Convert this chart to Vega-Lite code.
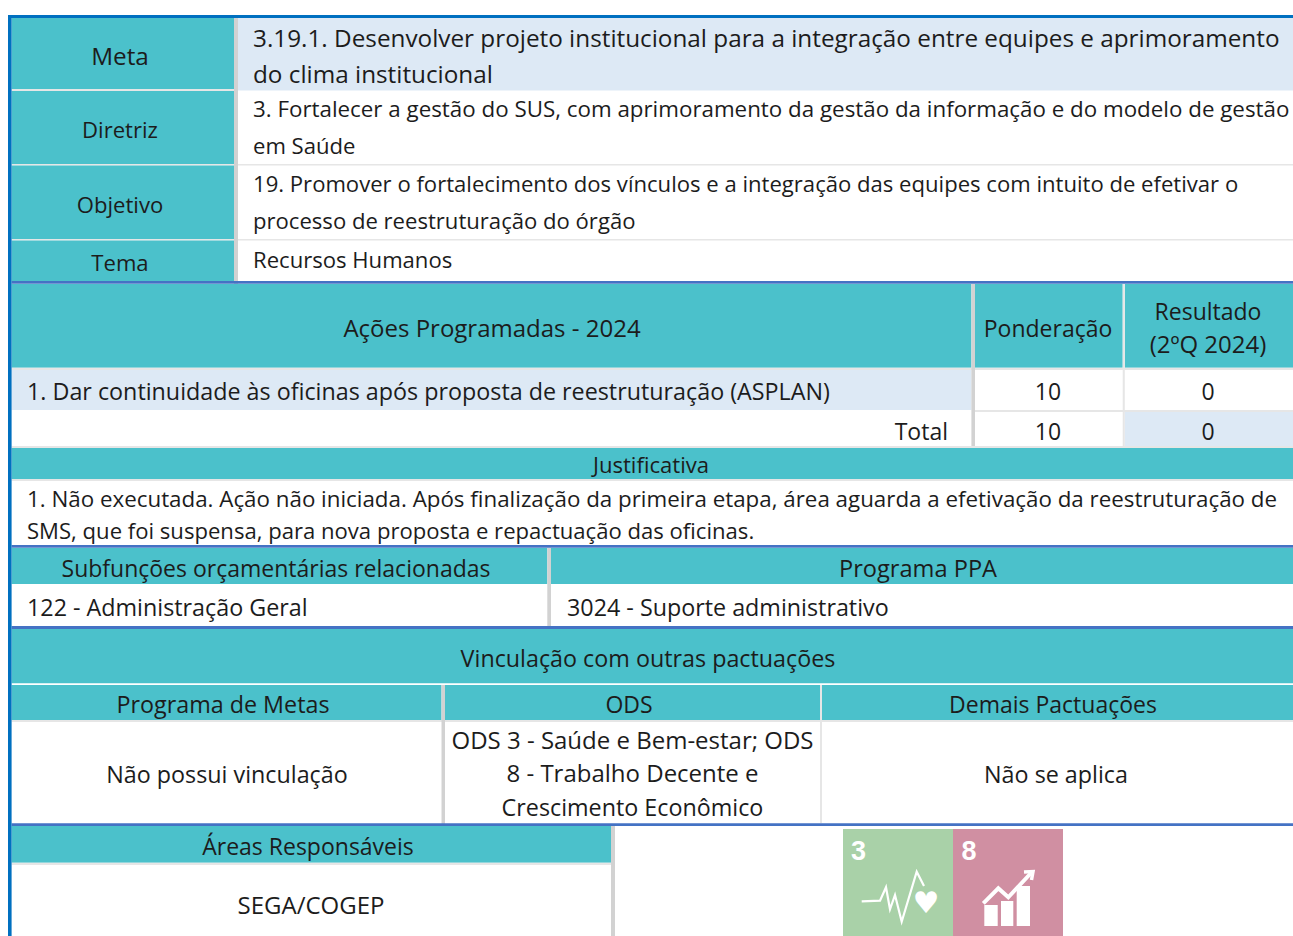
{
"$schema":"https://vega.github.io/schema/vega-lite/v6.json",
"width":1293,"height":936,"padding":0,"autosize":{"type":"none"},"background":"white",
"config":{"view":{"stroke":null},"text":{"font":"Open Sans"}},
"datasets":{
"cells":[
{"kind":"plain","l":11.6,"r":1293,"t":18,"b":936},
{"kind":"teal","l":11.6,"r":234,"t":18,"b":89},
{"kind":"sep","l":11.6,"r":234,"t":89,"b":91},
{"kind":"teal","l":11.6,"r":234,"t":91,"b":164},
{"kind":"sep","l":11.6,"r":234,"t":164,"b":165.5},
{"kind":"teal","l":11.6,"r":234,"t":165.5,"b":239},
{"kind":"sep","l":11.6,"r":234,"t":239,"b":240.5},
{"kind":"teal","l":11.6,"r":234,"t":240.5,"b":281},
{"kind":"pale","l":238,"r":1293,"t":18,"b":90.5},
{"kind":"sep","l":238,"r":1293,"t":164,"b":165.5},
{"kind":"sep","l":238,"r":1293,"t":239,"b":240.5},
{"kind":"grey","l":234,"r":238,"t":18,"b":285},
{"kind":"teal","l":11.6,"r":971.4,"t":284,"b":367.7},
{"kind":"teal","l":975,"r":1122.7,"t":284,"b":367.7},
{"kind":"teal","l":1124.8,"r":1293,"t":284,"b":367.7},
{"kind":"sep","l":11.6,"r":1293,"t":367.7,"b":370},
{"kind":"pale","l":11.6,"r":971.4,"t":370,"b":410},
{"kind":"sep","l":975,"r":1293,"t":410,"b":412},
{"kind":"pale","l":1124.8,"r":1293,"t":412,"b":446},
{"kind":"grey","l":971.4,"r":975,"t":284,"b":446},
{"kind":"sep","l":1122.7,"r":1124.8,"t":284,"b":446},
{"kind":"sep","l":11.6,"r":1293,"t":446,"b":448},
{"kind":"teal","l":11.6,"r":1293,"t":448,"b":479},
{"kind":"sep","l":11.6,"r":1293,"t":479,"b":481},
{"kind":"teal","l":11.6,"r":547.3,"t":548,"b":584},
{"kind":"teal","l":551,"r":1293,"t":548,"b":584},
{"kind":"grey","l":547.3,"r":551,"t":548,"b":629},
{"kind":"teal","l":11.6,"r":1293,"t":629,"b":683.3},
{"kind":"teal","l":11.6,"r":441.5,"t":685,"b":720},
{"kind":"teal","l":445,"r":820,"t":685,"b":720},
{"kind":"teal","l":822,"r":1293,"t":685,"b":720},
{"kind":"sep","l":11.6,"r":1293,"t":720,"b":722},
{"kind":"grey","l":441.5,"r":445,"t":685,"b":826},
{"kind":"sep","l":820,"r":822,"t":685,"b":823.3},
{"kind":"teal","l":11.6,"r":611,"t":826,"b":862.7},
{"kind":"sep","l":11.6,"r":611,"t":862.7,"b":865},
{"kind":"grey","l":611,"r":615,"t":826,"b":936},
{"kind":"rule2","l":11.6,"r":1293,"t":281,"b":283.7},
{"kind":"rule2","l":11.6,"r":1293,"t":545,"b":547.7},
{"kind":"rule2","l":11.6,"r":1293,"t":626,"b":629},
{"kind":"rule2","l":11.6,"r":1293,"t":823.3,"b":826},
{"kind":"rule1","l":8,"r":1293,"t":15,"b":18},
{"kind":"rule1","l":8,"r":11.6,"t":15,"b":936},
{"kind":"ods3","l":843,"r":953,"t":829,"b":936},
{"kind":"ods8","l":953,"r":1063,"t":829,"b":936},
{"kind":"glyph","l":984.3,"r":997.7,"t":905,"b":926},
{"kind":"glyph","l":1001,"r":1013.3,"t":901,"b":926},
{"kind":"glyph","l":1016.7,"r":1030,"t":886,"b":926}
],
"strokes":[
{"path":"pulse","step":1,"h":861.7,"v":901.3},{"path":"pulse","step":2,"h":880,"v":900.7},{"path":"pulse","step":3,"h":886,"v":887.3},{"path":"pulse","step":4,"h":890,"v":909.3},{"path":"pulse","step":5,"h":895,"v":895},{"path":"pulse","step":6,"h":901.7,"v":921.7},{"path":"pulse","step":7,"h":916.7,"v":871.7},{"path":"pulse","step":8,"h":924,"v":886},
{"path":"trend","step":1,"h":983.3,"v":903.3},{"path":"trend","step":2,"h":998.3,"v":888.3},{"path":"trend","step":3,"h":1008.3,"v":897.3},{"path":"trend","step":4,"h":1031,"v":873},
{"path":"head","step":1,"h":1024,"v":872},{"path":"head","step":2,"h":1033,"v":871.5},{"path":"head","step":3,"h":1031.5,"v":880}
],
"labels":[
{"txt":"Meta","pos":120,"base":65,"just":"center","tier":"large"},
{"txt":"Diretriz","pos":120,"base":138.3,"just":"center","tier":"compact"},
{"txt":"Objetivo","pos":120,"base":213.3,"just":"center","tier":"compact"},
{"txt":"Tema","pos":120,"base":271,"just":"center","tier":"compact"},
{"txt":"3.19.1. Desenvolver projeto institucional para a integração entre equipes e aprimoramento","pos":253,"base":46.7,"just":"left","tier":"large"},
{"txt":"do clima institucional","pos":253,"base":83.3,"just":"left","tier":"large"},
{"txt":"3. Fortalecer a gestão do SUS, com aprimoramento da gestão da informação e do modelo de gestão","pos":253,"base":117.3,"just":"left","tier":"fit"},
{"txt":"em Saúde","pos":253,"base":154,"just":"left","tier":"compact"},
{"txt":"19. Promover o fortalecimento dos vínculos e a integração das equipes com intuito de efetivar o","pos":253,"base":192.3,"just":"left","tier":"compact"},
{"txt":"processo de reestruturação do órgão","pos":253,"base":229.3,"just":"left","tier":"compact"},
{"txt":"Recursos Humanos","pos":253,"base":268.3,"just":"left","tier":"compact"},
{"txt":"Ações Programadas - 2024","pos":492,"base":337,"just":"center","tier":"wide"},
{"txt":"Ponderação","pos":1048,"base":336.7,"just":"center","tier":"normal"},
{"txt":"Resultado","pos":1208,"base":320,"just":"center","tier":"normal"},
{"txt":"(2ºQ 2024)","pos":1208,"base":353.3,"just":"center","tier":"wide"},
{"txt":"1. Dar continuidade às oficinas após proposta de reestruturação (ASPLAN)","pos":27,"base":400,"just":"left","tier":"snug"},
{"txt":"10","pos":1048,"base":400,"just":"center","tier":"normal"},
{"txt":"0","pos":1208,"base":400,"just":"center","tier":"normal"},
{"txt":"Total","pos":948,"base":440,"just":"right","tier":"normal"},
{"txt":"10","pos":1048,"base":440,"just":"center","tier":"normal"},
{"txt":"0","pos":1208,"base":440,"just":"center","tier":"normal"},
{"txt":"Justificativa","pos":651,"base":473.3,"just":"center","tier":"compact"},
{"txt":"1. Não executada. Ação não iniciada. Após finalização da primeira etapa, área aguarda a efetivação da reestruturação de","pos":27,"base":506.7,"just":"left","tier":"fit"},
{"txt":"SMS, que foi suspensa, para nova proposta e repactuação das oficinas.","pos":27,"base":539.3,"just":"left","tier":"compact"},
{"txt":"Subfunções orçamentárias relacionadas","pos":276,"base":576.7,"just":"center","tier":"normal"},
{"txt":"Programa PPA","pos":918,"base":576.7,"just":"center","tier":"mid"},
{"txt":"122 - Administração Geral","pos":27,"base":615.7,"just":"left","tier":"snug"},
{"txt":"3024 - Suporte administrativo","pos":567,"base":615.7,"just":"left","tier":"snug"},
{"txt":"Vinculação com outras pactuações","pos":648,"base":666.7,"just":"center","tier":"snug"},
{"txt":"Programa de Metas","pos":223,"base":712.7,"just":"center","tier":"snug"},
{"txt":"ODS","pos":629,"base":712.7,"just":"center","tier":"normal"},
{"txt":"Demais Pactuações","pos":1053,"base":712.7,"just":"center","tier":"normal"},
{"txt":"ODS 3 - Saúde e Bem-estar; ODS","pos":632.5,"base":749.3,"just":"center","tier":"wide"},
{"txt":"8 - Trabalho Decente e","pos":632.5,"base":782.3,"just":"center","tier":"wide"},
{"txt":"Crescimento Econômico","pos":632.5,"base":815.7,"just":"center","tier":"snug"},
{"txt":"Não possui vinculação","pos":227,"base":783.3,"just":"center","tier":"snug"},
{"txt":"Não se aplica","pos":1056,"base":783.3,"just":"center","tier":"snug"},
{"txt":"Áreas Responsáveis","pos":308,"base":855,"just":"center","tier":"normal"},
{"txt":"SEGA/COGEP","pos":311,"base":914,"just":"center","tier":"wide"}
],
"badges":[
{"txt":"3","pos":858.5,"base":860,"mark":"digit"},
{"txt":"8","pos":969,"base":860,"mark":"digit"},
{"txt":"♥","pos":926,"base":913,"mark":"heart"}
]
},
"layer":[
{"data":{"name":"cells"},"mark":{"type":"rect"},
 "encoding":{
  "x":{"field":"l","type":"quantitative","scale":{"domain":[0,1293],"nice":false,"zero":false},"axis":null},
  "x2":{"field":"r"},
  "y":{"field":"t","type":"quantitative","scale":{"domain":[936,0],"nice":false,"zero":false},"axis":null},
  "y2":{"field":"b"},
  "color":{"field":"kind","type":"nominal","legend":null,"scale":{
   "domain":["plain","teal","pale","sep","grey","rule1","rule2","ods3","ods8","glyph"],
   "range":["#ffffff","#4bc1cb","#dde9f5","#e6e6e6","#d2d2d2","#0070c0","#4472c4","#a9d1a8","#d08fa2","#ffffff"]}}
 }},
{"data":{"name":"strokes"},"mark":{"type":"line","color":"#ffffff"},
 "encoding":{
  "x":{"field":"h","type":"quantitative","scale":{"domain":[0,1293],"nice":false,"zero":false},"axis":null},
  "y":{"field":"v","type":"quantitative","scale":{"domain":[936,0],"nice":false,"zero":false},"axis":null},
  "detail":{"field":"path"},"order":{"field":"step"},
  "strokeWidth":{"field":"path","type":"nominal","legend":null,"scale":{"type":"ordinal","domain":["pulse","trend","head"],"range":[2.2,4,3.5]}}
 }},
{"data":{"name":"badges"},"transform":[{"filter":"datum.mark=='digit'"}],
 "mark":{"type":"text","align":"center","baseline":"alphabetic","font":"Liberation Sans","fontWeight":"bold","fontSize":27,"color":"#ffffff"},
 "encoding":{
  "x":{"field":"pos","type":"quantitative","scale":{"domain":[0,1293],"nice":false,"zero":false},"axis":null},
  "y":{"field":"base","type":"quantitative","scale":{"domain":[936,0],"nice":false,"zero":false},"axis":null},
  "text":{"field":"txt"}}},
{"data":{"name":"badges"},"transform":[{"filter":"datum.mark=='heart'"}],
 "mark":{"type":"text","align":"center","baseline":"alphabetic","font":"DejaVu Sans","fontSize":30,"color":"#ffffff"},
 "encoding":{
  "x":{"field":"pos","type":"quantitative","scale":{"domain":[0,1293],"nice":false,"zero":false},"axis":null},
  "y":{"field":"base","type":"quantitative","scale":{"domain":[936,0],"nice":false,"zero":false},"axis":null},
  "text":{"field":"txt"}}},
{"data":{"name":"labels"},"transform":[{"filter":"datum.just=='left'"}],
 "mark":{"type":"text","align":"left","baseline":"alphabetic","color":"#1c1c1c"},
 "encoding":{
  "x":{"field":"pos","type":"quantitative","scale":{"domain":[0,1293],"nice":false,"zero":false},"axis":null},
  "y":{"field":"base","type":"quantitative","scale":{"domain":[936,0],"nice":false,"zero":false},"axis":null},
  "size":{"field":"tier","type":"nominal","legend":null,"scale":{"type":"ordinal","domain":["compact","fit","normal","snug","mid","wide","large"],"range":[22.1,22.35,23,23.3,23.6,24,24.3]}},
  "text":{"field":"txt"}}},
{"data":{"name":"labels"},"transform":[{"filter":"datum.just=='center'"}],
 "mark":{"type":"text","align":"center","baseline":"alphabetic","color":"#1c1c1c"},
 "encoding":{
  "x":{"field":"pos","type":"quantitative","scale":{"domain":[0,1293],"nice":false,"zero":false},"axis":null},
  "y":{"field":"base","type":"quantitative","scale":{"domain":[936,0],"nice":false,"zero":false},"axis":null},
  "size":{"field":"tier","type":"nominal","legend":null,"scale":{"type":"ordinal","domain":["compact","fit","normal","snug","mid","wide","large"],"range":[22.1,22.35,23,23.3,23.6,24,24.3]}},
  "text":{"field":"txt"}}},
{"data":{"name":"labels"},"transform":[{"filter":"datum.just=='right'"}],
 "mark":{"type":"text","align":"right","baseline":"alphabetic","color":"#1c1c1c"},
 "encoding":{
  "x":{"field":"pos","type":"quantitative","scale":{"domain":[0,1293],"nice":false,"zero":false},"axis":null},
  "y":{"field":"base","type":"quantitative","scale":{"domain":[936,0],"nice":false,"zero":false},"axis":null},
  "size":{"field":"tier","type":"nominal","legend":null,"scale":{"type":"ordinal","domain":["compact","fit","normal","snug","mid","wide","large"],"range":[22.1,22.35,23,23.3,23.6,24,24.3]}},
  "text":{"field":"txt"}}}
]
}
